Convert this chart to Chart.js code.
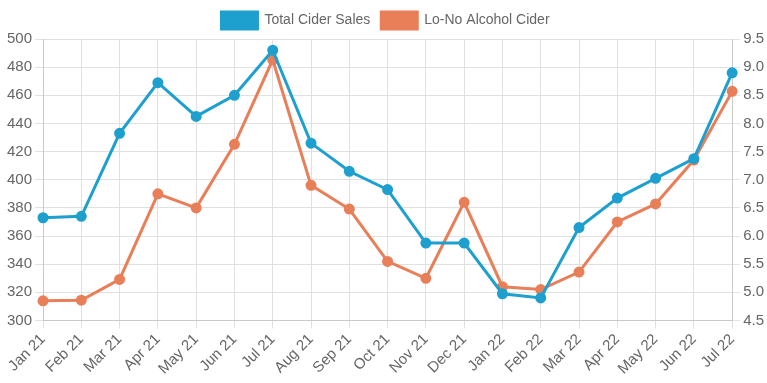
<!DOCTYPE html>
<html>
<head>
<meta charset="utf-8">
<script src="https://cdn.jsdelivr.net/npm/chart.js@4"></script>
<style>
  html,body{margin:0;padding:0;background:#fff;}
  #wrap{width:767px;height:383px;}
</style>
</head>
<body>
<div id="wrap"><canvas id="c"></canvas></div>
<script>
// cider chart - two series on separate y axes
const months = ['Jan 21','Feb 21','Mar 21','Apr 21','May 21','Jun 21','Jul 21','Aug 21','Sep 21','Oct 21','Nov 21','Dec 21',
  'Jan 22','Feb 22','Mar 22','Apr 22','May 22','Jun 22','Jul 22'];
const totalSales = [373,374,433,469,445,460,492,426,406,393,355,355,319,316,366,387,401,415,476];
const loNoSales = [4.85,4.86,5.23,6.75,6.5,7.63,9.13,6.9,6.48,5.55,5.25,6.6,5.1,5.05,5.36,6.25,6.57,7.35,8.57];

const blue = '#1ea0cf', orange = '#e87f59';
Chart.defaults.font.family = 'Arial, "Liberation Sans", sans-serif';
Chart.defaults.font.size = 15;
Chart.defaults.color = '#666';

new Chart(document.getElementById('c'), {
  type:'line',
  data:{labels:months, datasets:[
    {label:'Total Cider Sales', data:totalSales, yAxisID:'y', borderColor:blue, backgroundColor:blue, borderWidth:3, pointRadius:4, tension:0},
    {label:'Lo-No Alcohol Cider', data:loNoSales, yAxisID:'y2', borderColor:orange, backgroundColor:orange, borderWidth:3, pointRadius:4, tension:0}
  ]},
  options:{
    responsive:true, maintainAspectRatio:false, animation:false,
    layout:{padding:{left:4,right:0,top:1,bottom:3}},
    plugins:{legend:{labels:{boxWidth:36, boxHeight:17, padding:11, font:{size:14}}}},
    scales:{
      x:{ticks:{minRotation:45, maxRotation:45, padding:2}, grid:{color:'#e0e0e0'}},
      y:{position:'left', min:300, max:500, ticks:{stepSize:20}, grid:{color:'#e0e0e0'}},
      y2:{position:'right', min:4.5, max:9.5, ticks:{stepSize:0.5, callback:v=>v.toFixed(1)}, grid:{drawOnChartArea:false}}
    }
  }
});
</script>
</body>
</html>
